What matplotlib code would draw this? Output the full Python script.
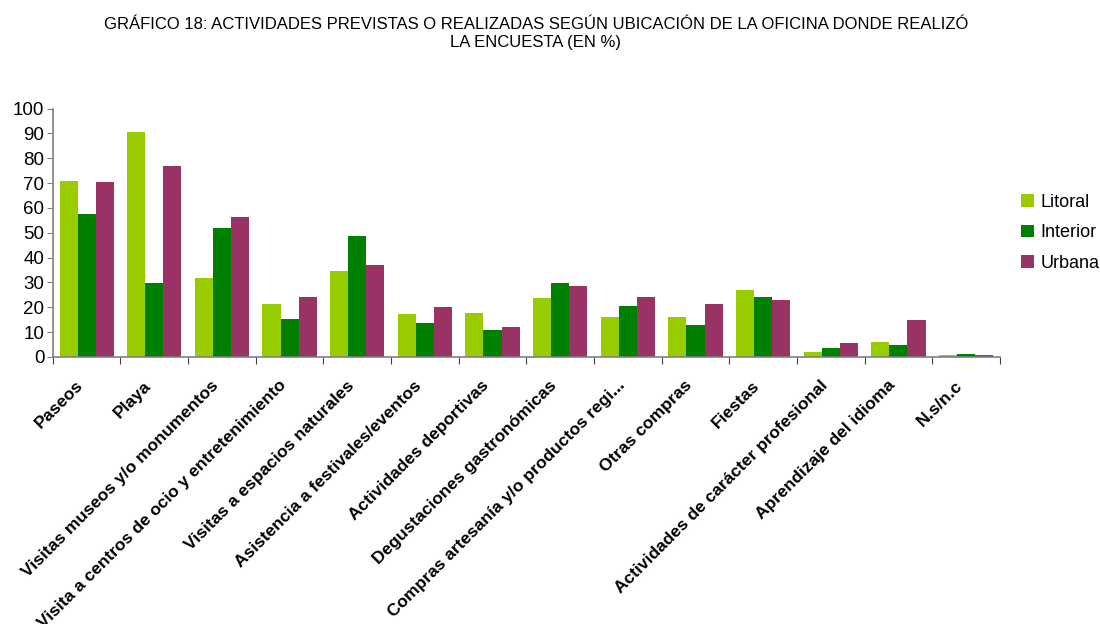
import numpy as np
import matplotlib.pyplot as plt
import matplotlib.transforms as mtransforms

plt.rcParams['font.family'] = ['Liberation Sans', 'DejaVu Sans']

actividades = ['Paseos', 'Playa', 'Visitas museos y/o monumentos',
               'Visita a centros de ocio y entretenimiento',
               'Visitas a espacios naturales', 'Asistencia a festivales/eventos',
               'Actividades deportivas', 'Degustaciones gastronómicas',
               'Compras artesanía y/o productos regi...', 'Otras compras',
               'Fiestas', 'Actividades de carácter profesional',
               'Aprendizaje del idioma', 'N.s/n.c']
litoral = [70.7, 90.5, 31.7, 21.2, 34.5, 17.2, 17.6, 23.6, 16.0, 16.0, 26.8, 1.9, 5.9, 0.7]
interior = [57.7, 29.7, 51.8, 15.2, 48.6, 13.6, 10.7, 29.7, 20.4, 12.8, 24.0, 3.5, 4.7, 1.1]
urbana = [70.3, 76.8, 56.2, 24.0, 36.9, 20.0, 11.9, 28.5, 24.0, 21.2, 22.8, 5.5, 14.8, 0.7]

series = [('Litoral', litoral, '#99CC00'),
          ('Interior', interior, '#008000'),
          ('Urbana', urbana, '#993366')]

fig = plt.figure(figsize=(11, 6.24), dpi=100)
ax = fig.add_axes([0.048, 0.428, 0.861, 0.398])

x = np.arange(len(actividades))
w = 0.267
for i, (nombre, vals, col) in enumerate(series):
    ax.bar(x + (i - 1) * w, vals, width=w, color=col, label=nombre)

ax.set_xlim(-0.5, len(actividades) - 0.5)
ax.set_ylim(0, 100)
ax.set_yticks(range(0, 101, 10))
ax.tick_params(axis='y', labelsize=13.5, length=4, color='#808080', pad=2)

# ticks between categories, labels centred on each group
ax.set_xticks(np.arange(len(actividades) + 1) - 0.5)
ax.set_xticklabels([])
ax.set_xticks(x, minor=True)
ax.set_xticklabels(actividades, minor=True, rotation=45, ha='right',
                   rotation_mode='anchor', fontsize=12.5, fontweight='bold')
ax.tick_params(axis='x', which='minor', length=0, pad=10)
ax.tick_params(axis='x', which='major', length=5, color='#404040')

shift = mtransforms.ScaledTranslation(-11 / 100, -7 / 100, fig.dpi_scale_trans)
for lbl in ax.get_xminorticklabels():
    lbl.set_transform(lbl.get_transform() + shift)

for s in ['top', 'right']:
    ax.spines[s].set_visible(False)
for s in ['left', 'bottom']:
    ax.spines[s].set_color('#808080')
    ax.spines[s].set_linewidth(1.2)

fig.text(0.487, 0.972, 'GRÁFICO 18: ACTIVIDADES PREVISTAS O REALIZADAS SEGÚN UBICACIÓN DE LA OFICINA DONDE REALIZÓ\nLA ENCUESTA (EN %)',
         ha='center', va='top', fontsize=12, linespacing=1.2)

ax.legend(loc='center left', bbox_to_anchor=(1.005, 0.5), frameon=False,
          fontsize=13, handlelength=0.7, handleheight=0.7, handletextpad=0.4,
          labelspacing=0.75)

fig.savefig('out.png', dpi=100)
